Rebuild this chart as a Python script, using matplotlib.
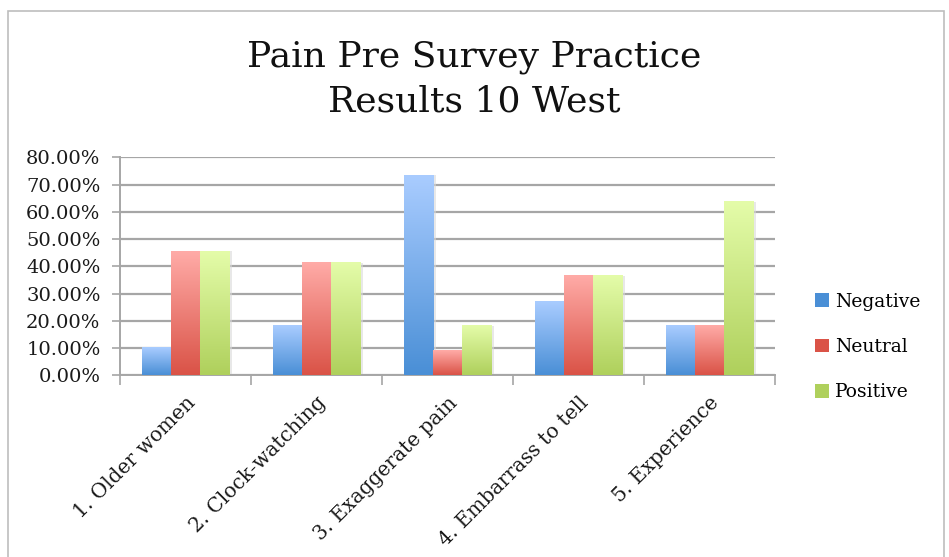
import numpy as np
import matplotlib
matplotlib.use("Agg")
import matplotlib.pyplot as plt
from matplotlib.colors import LinearSegmentedColormap
from matplotlib.patches import Patch, Rectangle
from matplotlib.ticker import FuncFormatter, FixedLocator

# data (percentages)
categories = ["1. Older women", "2. Clock-watching", "3. Exaggerate pain",
              "4. Embarrass to tell", "5. Experience"]
negative = [10.0, 18.18, 73.33, 26.92, 18.18]
neutral = [45.45, 41.18, 9.09, 36.36, 18.18]
positive = [45.45, 41.18, 18.18, 36.36, 63.64]
series_names = ["Negative", "Neutral", "Positive"]

# (bottom colour, top colour) for the gradient fills
grad = [("#4a8fd6", "#a9ccff"), ("#da5347", "#ffaba7"), ("#afd05c", "#e4fca9")]

plt.rcParams["font.family"] = "DejaVu Serif"

fig = plt.figure(figsize=(9.49, 5.57), dpi=100)
ax = fig.add_axes([0.1264, 0.3262, 0.8166 - 0.1264, 0.7176 - 0.3262])

x = np.arange(len(categories))
w = 0.222
values = [negative, neutral, positive]

for i, vals in enumerate(values):
    cmap = LinearSegmentedColormap.from_list("g%d" % i, [grad[i][0], grad[i][1]])
    bars = ax.bar(x + (i - 1) * w, vals, width=w, color="none", zorder=3)
    for b in bars:
        x0, h, bw = b.get_x(), b.get_height(), b.get_width()
        # soft shadow on the right
        ax.add_patch(Rectangle((x0 + bw, 0), 0.025, h, color="#d9d9d9",
                               alpha=0.6, zorder=2, lw=0))
        ax.imshow(np.linspace(0, 1, 100).reshape(-1, 1), cmap=cmap,
                  origin="lower", extent=[x0, x0 + bw, 0, h],
                  aspect="auto", zorder=3, interpolation="bicubic")

ax.set_xlim(-0.5, len(categories) - 0.5)
ax.set_ylim(0, 80)
ax.set_yticks(np.arange(0, 81, 10))
ax.yaxis.set_major_formatter(FuncFormatter(lambda v, p: "%.2f%%" % v))
ax.yaxis.grid(True, color="#a6a6a6", linewidth=1.6, zorder=0)
ax.set_axisbelow(True)

ax.set_xticks(x)
ax.set_xticklabels(categories, rotation=45, ha="right", rotation_mode="anchor",
                   fontsize=14.5, color="#1a1a1a")
ax.tick_params(axis="x", length=0, pad=13)
ax.xaxis.set_minor_locator(FixedLocator(np.arange(-0.5, len(categories), 1)))
ax.tick_params(axis="x", which="minor", length=7, width=1.2, color="#a6a6a6",
               direction="out")
ax.tick_params(axis="y", length=6, width=1.2, color="#a6a6a6", direction="out",
               labelsize=14, labelcolor="#1a1a1a", pad=8)

for s in ["top", "right"]:
    ax.spines[s].set_visible(False)
for s in ["left", "bottom"]:
    ax.spines[s].set_color("#a6a6a6")
    ax.spines[s].set_linewidth(1.4)

fig.text(0.5, 0.897, "Pain Pre Survey Practice", ha="center", va="center",
         fontsize=26, color="#111111")
fig.text(0.5, 0.817, "Results 10 West", ha="center", va="center",
         fontsize=26, color="#111111")

handles = [Patch(facecolor=grad[i][0], edgecolor="none") for i in range(3)]
fig.legend(handles, series_names, loc="center left",
           bbox_to_anchor=(0.841, 0.377), frameon=False, fontsize=13.5,
           handlelength=0.75, handleheight=0.75, handletextpad=0.3,
           labelspacing=1.45)

# chart border
fig.patches.append(Rectangle((8 / 949, -0.02), (944 - 8) / 949, 1.0,
                             transform=fig.transFigure, fill=False,
                             edgecolor="#bdbdbd", linewidth=1.2))

fig.savefig("out.png", dpi=100)
